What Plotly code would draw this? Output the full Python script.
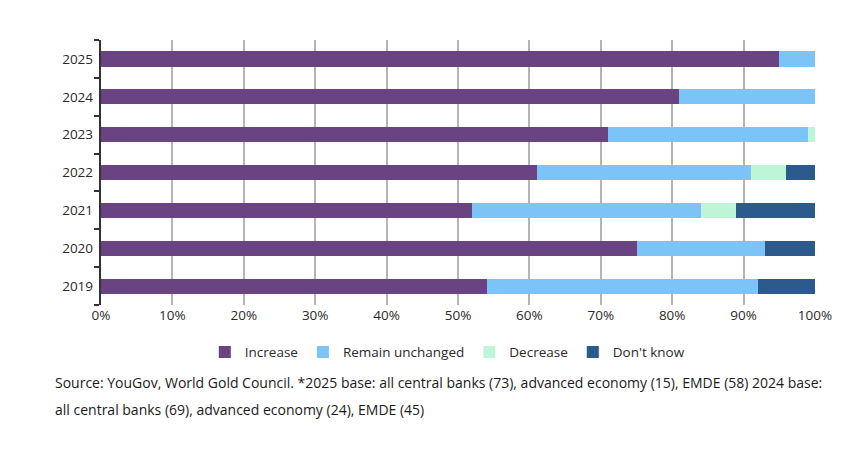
import plotly.graph_objects as go

years = ["2019", "2020", "2021", "2022", "2023", "2024", "2025"]
increase = [54, 75, 52, 61, 71, 81, 95]
remain = [38, 18, 32, 30, 28, 19, 5]
decrease = [0, 0, 5, 5, 1, 0, 0]
dont_know = [8, 7, 11, 4, 0, 0, 0]
x_ticks = [0, 10, 20, 30, 40, 50, 60, 70, 80, 90, 100]
x_labels = [f"{v}%" for v in x_ticks]

series = [
    ("Increase", increase, "#6a4482"),
    ("Remain unchanged", remain, "#7cc3f8"),
    ("Decrease", decrease, "#bdf5d6"),
    ("Don't know", dont_know, "#2d5a8c"),
]

fig = go.Figure()
for name, vals, col in series:
    fig.add_trace(go.Bar(
        y=years, x=vals, name=name, orientation="h",
        marker=dict(color=col, line=dict(width=0)),
        hoverinfo="x+y+name",
    ))

font_family = "Open Sans, Noto Sans, sans-serif"
fig.update_layout(
    width=867, height=449,
    barmode="stack", bargap=0.6,
    paper_bgcolor="white", plot_bgcolor="white",
    margin=dict(l=101, r=52, t=40, b=144),
    font=dict(family=font_family, size=13.5, color="#2a2a2a"),
    showlegend=True,
    legend=dict(
        orientation="h", x=0.485, xanchor="center", y=-0.12, yanchor="top",
        traceorder="normal", font=dict(size=13.5, color="#2a2a2a"),
        itemwidth=30,
    ),
    xaxis=dict(
        range=[0, 100], tickvals=x_ticks, ticktext=x_labels,
        showgrid=True, gridcolor="#b4b4b4", gridwidth=1.5,
        zeroline=False, showline=False, ticks="",
        tickfont=dict(size=13.5, color="#2a2a2a"),
        fixedrange=True,
    ),
    yaxis=dict(
        type="category", categoryorder="array", categoryarray=years,
        showline=True, linecolor="#333333", linewidth=1.5,
        ticks="outside", tickson="boundaries", ticklen=5,
        tickcolor="#333333", tickwidth=1.5,
        showgrid=False, ticksuffix=" ",
        tickfont=dict(size=13.5, color="#2a2a2a"),
        fixedrange=True,
    ),
)

fig.add_annotation(
    xref="paper", yref="paper", x=-0.0675, y=-0.293, xanchor="left", yanchor="middle",
    text="Source: YouGov, World Gold Council. *2025 base: all central banks (73), advanced economy (15), EMDE (58) 2024 base:",
    showarrow=False, font=dict(size=14, color="#1a1a1a", family=font_family), align="left",
)
fig.add_annotation(
    xref="paper", yref="paper", x=-0.0675, y=-0.395, xanchor="left", yanchor="middle",
    text="all central banks (69), advanced economy (24), EMDE (45)",
    showarrow=False, font=dict(size=14, color="#1a1a1a", family=font_family), align="left",
)

fig.write_html("out.html")
